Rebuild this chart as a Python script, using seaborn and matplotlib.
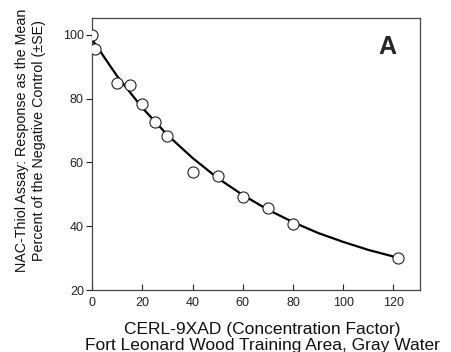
"""NAC-Thiol assay response vs CERL-9XAD concentration factor."""

import matplotlib

matplotlib.use("Agg")
import matplotlib.pyplot as plt
import seaborn as sns

# observed responses (percent of negative control)
conc = [0, 1, 10, 15, 20, 25, 30, 40, 50, 60, 70, 80, 122]
response = [100, 95.6, 84.8, 84.2, 78.2, 72.6, 68.3, 57.1, 55.7, 49.1, 45.7, 40.8, 30.0]

# fitted curve
fit_x = [0, 10, 20, 30, 40, 50, 60, 70, 80, 90, 100, 110, 122]
fit_y = [98.5, 87.0, 77.1, 68.6, 61.4, 55.1, 49.8, 45.2, 41.3, 37.9, 35.1, 32.6, 30.1]

x_ticks = [0, 20, 40, 60, 80, 100, 120]
y_ticks = [20, 40, 60, 80, 100]

sns.set_theme(style="white")
plt.rcParams["font.family"] = ["Liberation Sans", "DejaVu Sans"]

fig = plt.figure(figsize=(4.52, 3.52), dpi=100)
ax = fig.add_axes([0.204, 0.176, 0.725, 0.773])

sns.lineplot(x=fit_x, y=fit_y, color="black", lw=1.6, ax=ax, zorder=2)
sns.scatterplot(
    x=conc, y=response, marker="o", s=64, facecolor="white",
    edgecolor="#222222", linewidth=0.8, ax=ax, zorder=3,
)

ax.set_xlim(0, 130.6)
ax.set_ylim(20, 105.3)
ax.set_xticks(x_ticks)
ax.set_yticks(y_ticks)
ax.tick_params(axis="x", direction="in", length=4, width=0.8, labelsize=9, pad=5, colors="#222222")
ax.tick_params(axis="y", direction="out", length=4, width=0.8, labelsize=9, pad=2, colors="#222222")
ax.tick_params(left=True, bottom=True)
for sp in ax.spines.values():
    sp.set_color("#444444")
    sp.set_linewidth(0.9)

ax.set_xlabel("CERL-9XAD (Concentration Factor)\nFort Leonard Wood Training Area, Gray Water",
              fontsize=12.5, linespacing=1.1, color="#111111")
ax.xaxis.set_label_coords(0.52, -0.118)
ax.set_ylabel("NAC-Thiol Assay: Response as the Mean\nPercent of the Negative Control (\u00b1SE)",
              fontsize=10.3, linespacing=1.2, color="#111111")
ax.yaxis.set_label_coords(-0.142, 0.55)
ax.text(117.6, 96.1, "A", fontsize=18, fontweight="bold", ha="center", va="center")

fig.savefig("out.png", dpi=100)
